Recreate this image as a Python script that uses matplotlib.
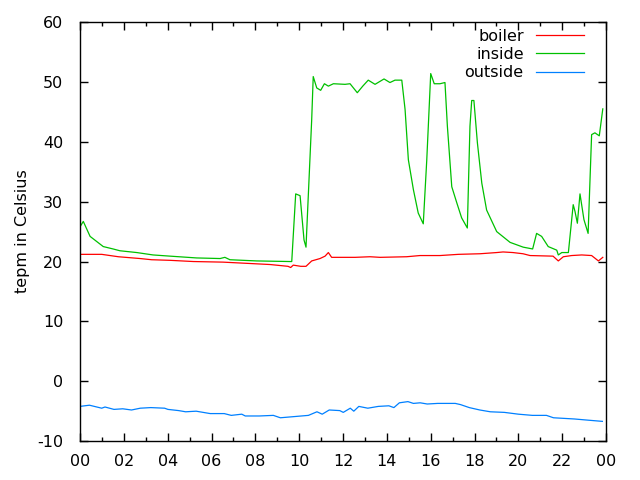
import matplotlib
matplotlib.use("Agg")
from matplotlib import pyplot as plt
from matplotlib.ticker import MultipleLocator, FixedLocator

plt.rcParams["axes.unicode_minus"] = False

# hours of day
boiler_h = [0.00, 0.99, 1.37, 1.75, 2.74, 3.27, 4.11, 5.17, 6.52, 7.60, 8.67,
            9.49, 9.61, 9.73, 10.07, 10.31, 10.57, 10.95, 11.18, 11.33, 11.48,
            12.55, 13.23, 13.69, 14.90, 15.51, 16.42, 17.26, 18.25, 19.01,
            19.30, 19.75, 20.21, 20.53, 21.58, 21.82, 22.05, 22.43, 22.89,
            23.34, 23.65, 23.85]
boiler_t = [21.2, 21.2, 21.0, 20.8, 20.5, 20.3, 20.2, 20.0, 19.9, 19.7, 19.5,
            19.2, 19.0, 19.4, 19.2, 19.2, 20.1, 20.5, 20.9, 21.5, 20.7,
            20.7, 20.8, 20.7, 20.8, 21.0, 21.0, 21.2, 21.3, 21.5,
            21.6, 21.5, 21.3, 21.0, 20.9, 20.1, 20.8, 21.0, 21.1,
            21.0, 20.1, 20.7]

inside_h = [0.00, 0.15, 0.46, 1.06, 1.51, 1.82, 2.59, 3.33, 4.11, 5.32, 6.39,
            6.61, 6.84, 8.06, 9.58, 9.66, 9.84, 10.04, 10.22, 10.31, 10.42,
            10.57, 10.64, 10.80, 10.98, 11.15, 11.33, 11.56, 12.09, 12.32,
            12.65, 12.90, 13.15, 13.46, 13.87, 14.14, 14.37, 14.68, 14.83,
            14.98, 15.21, 15.43, 15.66, 15.82, 16.00, 16.16, 16.42, 16.65,
            16.76, 16.96, 17.19, 17.41, 17.67, 17.79, 17.87, 17.97, 18.13,
            18.33, 18.55, 19.01, 19.62, 20.22, 20.65, 20.83, 21.06, 21.36,
            21.75, 21.82, 21.98, 22.28, 22.50, 22.58, 22.69, 22.81, 22.99,
            23.18, 23.34, 23.49, 23.69, 23.85]
inside_t = [25.8, 26.7, 24.2, 22.5, 22.1, 21.8, 21.5, 21.1, 20.9, 20.6, 20.5,
            20.7, 20.3, 20.1, 20.0, 20.0, 31.3, 31.0, 23.6, 22.4, 31.4,
            43.7, 50.9, 49.0, 48.6, 49.7, 49.3, 49.7, 49.6, 49.7,
            48.2, 49.3, 50.3, 49.6, 50.5, 49.9, 50.3, 50.3, 45.4,
            37.0, 32.0, 28.1, 26.3, 37.0, 51.4, 49.7, 49.7, 49.9,
            42.6, 32.5, 29.8, 27.3, 25.6, 42.6, 46.9, 46.9, 39.8,
            33.1, 28.6, 25.0, 23.2, 22.4, 22.1, 24.7, 24.2, 22.5,
            21.9, 21.1, 21.5, 21.5, 29.5, 28.4, 26.4, 31.3, 27.0,
            24.7, 41.2, 41.5, 41.0, 45.5]

outside_h = [0.00, 0.43, 0.99, 1.14, 1.55, 1.95, 2.35, 2.75, 3.23, 3.86, 4.01,
             4.50, 4.82, 5.30, 5.94, 6.58, 6.90, 7.38, 7.54, 8.18, 8.82,
             9.14, 9.78, 10.42, 10.81, 11.05, 11.37, 11.85, 12.01, 12.33,
             12.49, 12.72, 13.13, 13.61, 14.09, 14.32, 14.57, 14.96, 15.21,
             15.52, 15.84, 16.32, 17.12, 17.36, 17.76, 18.24, 18.72, 19.36,
             20.00, 20.64, 21.28, 21.60, 22.55, 23.18, 23.83]
outside_t = [-4.2, -4.0, -4.5, -4.3, -4.7, -4.6, -4.8, -4.5, -4.4, -4.5, -4.7,
             -4.9, -5.1, -5.0, -5.4, -5.4, -5.7, -5.5, -5.8, -5.8, -5.7,
             -6.1, -5.9, -5.7, -5.1, -5.5, -4.8, -4.9, -5.2, -4.5,
             -5.0, -4.2, -4.5, -4.2, -4.1, -4.4, -3.6, -3.4, -3.7,
             -3.6, -3.8, -3.7, -3.7, -3.9, -4.4, -4.8, -5.1, -5.2,
             -5.5, -5.7, -5.7, -6.1, -6.3, -6.5, -6.7]

hour_ticks = list(range(0, 25, 2))
hour_labels = ["%02d" % (h % 24) for h in hour_ticks]

fig = plt.figure(figsize=(6.4, 4.8), dpi=100)
ax = fig.add_axes([0.125, 0.081, 0.822, 0.873])

ax.plot(boiler_h, boiler_t, color="#ff0000", lw=0.9, label="boiler")
ax.plot(inside_h, inside_t, color="#00c000", lw=0.9, label="inside")
ax.plot(outside_h, outside_t, color="#0080ff", lw=0.9, label="outside")

ax.set_xlim(0, 24)
ax.set_ylim(-10, 60)
ax.xaxis.set_major_locator(FixedLocator(hour_ticks))
ax.set_xticklabels(hour_labels)
ax.xaxis.set_minor_locator(MultipleLocator(1))
ax.yaxis.set_major_locator(MultipleLocator(10))

ax.tick_params(which="both", direction="in", top=True, right=True,
               labelsize=11.5, color="black")
ax.tick_params(which="major", length=6, width=1)
ax.tick_params(which="minor", length=3, width=1)
ax.tick_params(axis="y", pad=12)
ax.tick_params(axis="x", pad=9)
for s in ax.spines.values():
    s.set_linewidth(1.0)

ax.set_ylabel("tepm in Celsius", fontsize=11.5, labelpad=5)

ax.legend(loc="upper right", bbox_to_anchor=(0.977, 1.007), frameon=False,
          markerfirst=False, fontsize=11.5, handlelength=3.0,
          labelspacing=0.2, borderaxespad=0.2, handletextpad=0.8)

fig.savefig("out.png", dpi=100)
